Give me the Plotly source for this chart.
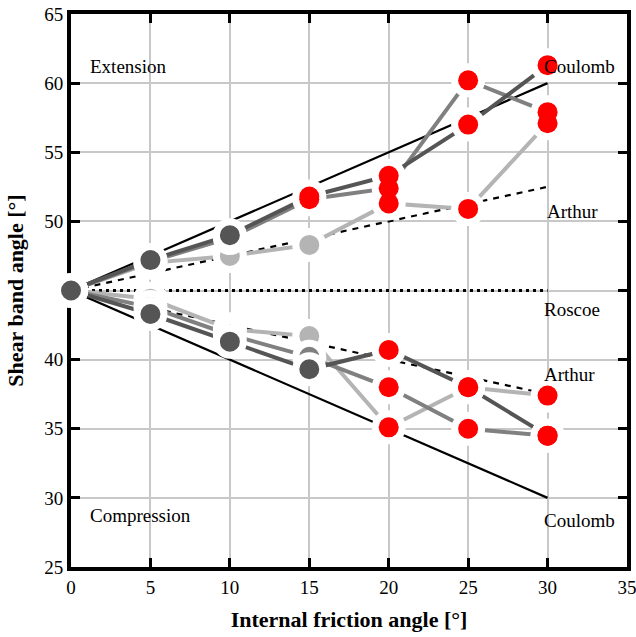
import plotly.graph_objects as go

# Data
x_vals = [0, 5, 10, 15, 20, 25, 30]
upper_dark = [45, 47.2, 49.0, 51.8, 53.3, 57.0, 61.3]
upper_medium = [45, 47.1, 48.8, 51.6, 52.4, 60.2, 57.9]
upper_light = [45, 47.0, 47.5, 48.3, 51.3, 50.9, 57.1]
lower_dark = [45, 43.3, 41.3, 39.3, 40.7, 38.0, 34.5]
lower_medium = [45, 43.8, 41.8, 40.2, 38.0, 35.0, 34.5]
lower_light = [45, 44.4, 42.2, 41.7, 35.1, 38.0, 37.4]

# first index from which each series' points are highlighted (red)
upper_dark_red_from = 3
upper_medium_red_from = 3
upper_light_red_from = 4
lower_dark_red_from = 4
lower_medium_red_from = 4
lower_light_red_from = 4

theory_x = [0, 30]
coulomb_ext = [45, 60]
coulomb_comp = [45, 30]
arthur_ext = [45, 52.5]
arthur_comp = [45, 37.5]
roscoe = [45, 45]

x_ticks = [0, 5, 10, 15, 20, 25, 30, 35]
y_ticks = [25, 30, 35, 40, 45, 50, 55, 60, 65]
y_ticktext = ["25", "30", "35", "40", "", "50", "55", "60", "65"]

DARK = "#555555"
MED = "#808080"
LIGHT = "#b4b4b4"
RED = "#ff0000"
FONT = "Liberation Serif"

fig = go.Figure()

# Theory lines
for yv, dash in [(coulomb_ext, "solid"), (coulomb_comp, "solid"),
                 (arthur_ext, "6px,6px"), (arthur_comp, "6px,6px")]:
    fig.add_trace(go.Scatter(x=theory_x, y=yv, mode="lines",
                             line=dict(color="black", width=2.2, dash=dash),
                             showlegend=False, hoverinfo="skip"))
fig.add_trace(go.Scatter(x=theory_x, y=roscoe, mode="lines",
                         line=dict(color="black", width=3, dash="3px,4px"),
                         showlegend=False, hoverinfo="skip"))

series = [(upper_light, LIGHT, upper_light_red_from),
          (lower_light, LIGHT, lower_light_red_from),
          (upper_medium, MED, upper_medium_red_from),
          (lower_medium, MED, lower_medium_red_from),
          (upper_dark, DARK, upper_dark_red_from),
          (lower_dark, DARK, lower_dark_red_from)]

# Data lines
for yv, col, rf in series:
    fig.add_trace(go.Scatter(x=x_vals, y=yv, mode="lines",
                             line=dict(color=col, width=4),
                             showlegend=False, hoverinfo="skip"))

# Grey markers with white halo
for yv, col, rf in series:
    fig.add_trace(go.Scatter(x=x_vals[:rf], y=yv[:rf], mode="markers",
                             marker=dict(color=col, size=27,
                                         line=dict(color="white", width=7)),
                             cliponaxis=False, showlegend=False))

# Red markers: halos first, then fills
red_x, red_y = [], []
for yv, col, rf in series:
    red_x += x_vals[rf:]
    red_y += yv[rf:]
fig.add_trace(go.Scatter(x=red_x, y=red_y, mode="markers",
                         marker=dict(color="white", size=34, line=dict(width=0)),
                         cliponaxis=False, showlegend=False, hoverinfo="skip"))
fig.add_trace(go.Scatter(x=red_x, y=red_y, mode="markers",
                         marker=dict(color=RED, size=20, line=dict(width=0)),
                         cliponaxis=False, showlegend=False))

annots = [
    (1.1, 61.2, "Extension"),
    (1.1, 28.7, "Compression"),
    (29.65, 61.2, "Coulomb"),
    (29.85, 50.7, "Arthur"),
    (29.65, 43.6, "Roscoe"),
    (29.65, 38.9, "Arthur"),
    (29.65, 28.4, "Coulomb"),
]
for ax, ay, t in annots:
    fig.add_annotation(x=ax, y=ay, text=t, showarrow=False, xanchor="left",
                       yanchor="middle", font=dict(family=FONT, size=19, color="black"))

axis_common = dict(showgrid=True, gridcolor="#c8c8c8", gridwidth=2,
                   showline=True, linecolor="black", linewidth=4,
                   mirror="allticks", ticks="inside", ticklen=9, tickwidth=3,
                   tickcolor="black", zeroline=False, layer="below traces",
                   automargin=False, ticklabeloverflow="allow",
                   tickfont=dict(family=FONT, size=19, color="black"))

fig.update_layout(
    width=636, height=637,
    margin=dict(l=71, r=9, t=14, b=70),
    plot_bgcolor="white", paper_bgcolor="white",
    xaxis=dict(range=[0, 35], tickvals=x_ticks,
               title=dict(text="<b>Internal friction angle [°]</b>", standoff=16,
                          font=dict(family=FONT, size=22, color="black")),
               **axis_common),
    yaxis=dict(range=[25, 65], tickvals=y_ticks, ticktext=y_ticktext,
               title=dict(text="<b>Shear band angle [°]</b>", standoff=16,
                          font=dict(family=FONT, size=22, color="black")),
               **axis_common),
)

# remove the default page margin so the 636x637 figure fills the window
fig.write_html("out.html", config={"displayModeBar": False},
               post_script="document.body.style.margin='0';document.body.style.overflow='hidden';")
